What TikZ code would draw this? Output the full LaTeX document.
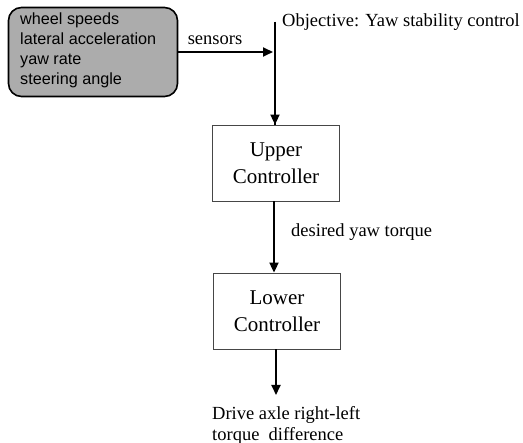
\documentclass[tikz,border=0pt]{standalone}
\usepackage{fontspec}
\setmainfont{Liberation Serif}
\newfontfamily\arialfont{Liberation Sans}
\usetikzlibrary{arrows.meta}
\definecolor{boxgray}{RGB}{172,172,172}
\definecolor{edgegray}{RGB}{70,70,70}
\begin{document}
\begin{tikzpicture}[x=1pt,y=-1pt,
  conn/.style={line width=1.8pt,-{Triangle[length=10pt,width=9pt]}},
  ctrlbox/.style={draw=edgegray,line width=0.8pt,fill=white,minimum width=127pt,minimum height=76pt,align=center,font=\fontsize{21}{27}\selectfont,inner sep=0pt},
  lbl/.style={font=\fontsize{18.5}{21}\selectfont,inner sep=0pt}]
\useasboundingbox (0,0) rectangle (523,443);
\node[draw=black,line width=1.6pt,fill=boxgray,rounded corners=13pt,minimum width=169pt,minimum height=89pt,inner sep=0pt] (sens) at (93,52) {};
\node[anchor=north west,align=left,inner sep=0pt,font=\arialfont\fontsize{16.2}{20}\selectfont] (senstxt) at (20,13) {wheel speeds\\lateral acceleration\\yaw rate\\steering angle};
\coordinate (top) at (275,22);
\coordinate (sj) at (273,52);
\node[ctrlbox] (upper) at (276,163) {Upper\\Controller};
\node[ctrlbox] (lower) at (277,311) {Lower\\Controller};
\coordinate (out) at (276,395);
\draw[line width=1.8pt] (top) -- (275,125);
\draw[conn] (top) -- (upper.north -| top);
\draw[conn] (sens.east) -- (sj);
\node[lbl] (senslbl) at (215,40) {sensors};
\node[lbl,anchor=west] (obj) at (282,22) {Objective: Yaw stability control};
\draw[conn] (upper.south -| 274,0) -- (lower.north -| 274,0);
\node[lbl,anchor=west] (dyt) at (291,232) {desired yaw torque};
\draw[conn] (lower.south -| out) -- (out);
\node[lbl,anchor=north west,align=left] (drive) at (212,406) {Drive axle right-left\\torque\ \ difference};
\end{tikzpicture}
\end{document}
